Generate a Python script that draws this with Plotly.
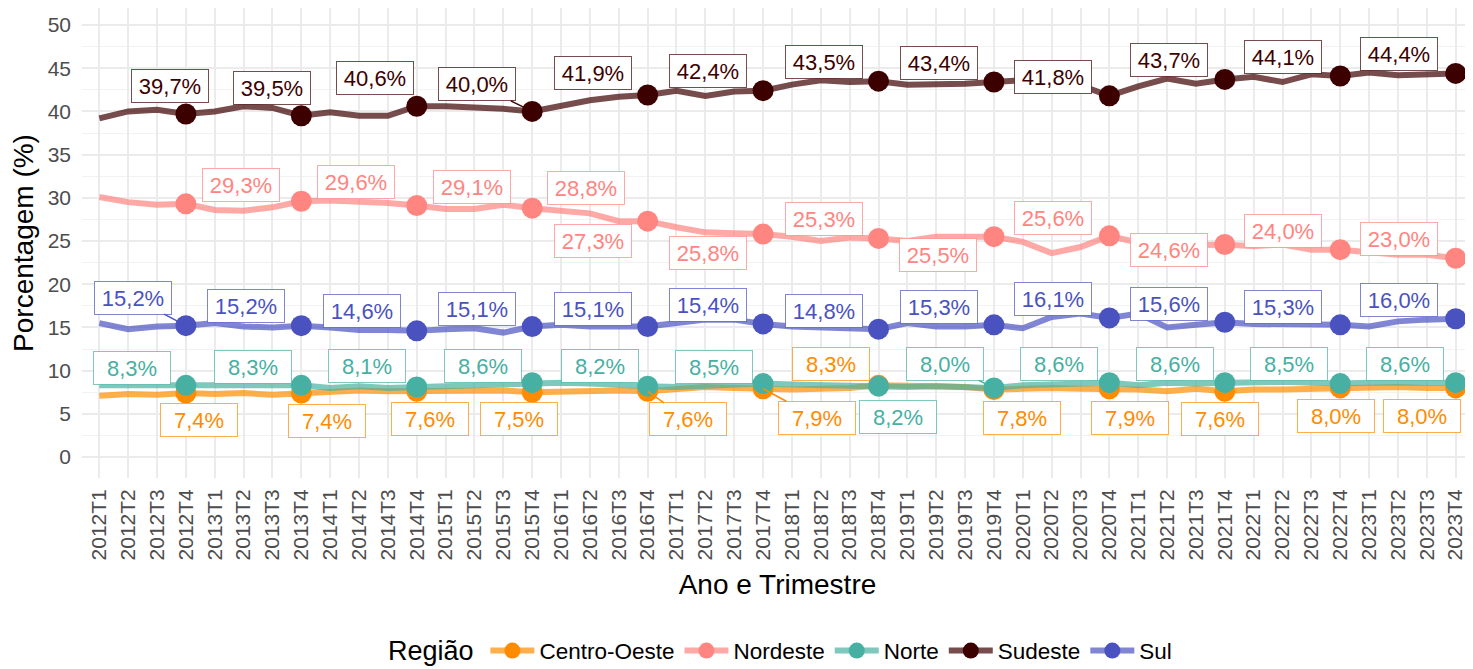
import plotly.graph_objects as go

# categorias (trimestres)
anos = list(range(2012, 2024))
trimestres = [f'{a}T{t}' for a in anos for t in range(1, 5)]

centro_oeste = [7.1, 7.3, 7.2, 7.4, 7.3, 7.4, 7.2, 7.4, 7.5, 7.7, 7.6, 7.6,
                7.6, 7.6, 7.7, 7.5, 7.6, 7.6, 7.7, 7.6, 7.9, 8.1, 8.0, 7.9,
                7.8, 7.9, 8.0, 8.3, 8.3, 8.2, 8.1, 7.8, 7.9, 8.0, 7.9, 7.9,
                7.8, 7.6, 7.9, 7.6, 7.8, 7.8, 7.9, 8.0, 8.0, 8.1, 8.0, 8.0]
nordeste = [30.1, 29.5, 29.2, 29.3, 28.6, 28.5, 28.9, 29.6, 29.7, 29.6, 29.4, 29.1,
            28.7, 28.7, 29.2, 28.8, 28.5, 28.2, 27.3, 27.3, 26.6, 26.0, 25.9, 25.8,
            25.5, 25.0, 25.4, 25.3, 25.0, 25.5, 25.5, 25.5, 24.9, 23.6, 24.3, 25.6,
            24.8, 24.6, 24.5, 24.6, 24.4, 24.6, 24.0, 24.0, 23.7, 23.4, 23.4, 23.0]
norte = [8.3, 8.3, 8.3, 8.3, 8.4, 8.4, 8.3, 8.3, 8.0, 8.2, 8.0, 8.1,
         8.3, 8.4, 8.5, 8.6, 8.6, 8.5, 8.3, 8.2, 8.1, 8.2, 8.4, 8.5,
         8.4, 8.3, 8.2, 8.2, 8.1, 8.2, 8.1, 8.0, 8.3, 8.4, 8.5, 8.6,
         8.3, 8.6, 8.5, 8.6, 8.7, 8.7, 8.6, 8.5, 8.6, 8.6, 8.6, 8.6]
sudeste = [39.2, 40.0, 40.2, 39.7, 40.0, 40.6, 40.4, 39.5, 39.9, 39.5, 39.5, 40.6,
           40.6, 40.5, 40.3, 40.0, 40.7, 41.3, 41.7, 41.9, 42.4, 41.8, 42.3, 42.4,
           43.1, 43.6, 43.4, 43.5, 43.1, 43.1, 43.2, 43.4, 43.6, 43.5, 43.0, 41.8,
           42.9, 43.8, 43.2, 43.7, 44.0, 43.4, 44.3, 44.1, 44.5, 44.2, 44.3, 44.4]
sul = [15.5, 14.8, 15.1, 15.2, 15.5, 15.1, 15.0, 15.2, 15.0, 14.7, 14.7, 14.6,
       14.8, 14.9, 14.4, 15.1, 15.3, 15.1, 15.1, 15.1, 15.5, 15.9, 15.9, 15.4,
       15.1, 15.0, 14.9, 14.8, 15.5, 15.1, 15.1, 15.3, 14.9, 16.2, 16.6, 16.1,
       16.6, 15.0, 15.3, 15.6, 15.4, 15.4, 15.3, 15.3, 15.1, 15.7, 15.9, 16.0]

regioes = ['Centro-Oeste', 'Nordeste', 'Norte', 'Sudeste', 'Sul']
valores = [centro_oeste, nordeste, norte, sudeste, sul]
cores = ['#FF8C00', '#FF8581', '#47B0A2', '#3D0000', '#4A52C0']
cores_alpha = ['rgba(255,140,0,0.7)', 'rgba(255,133,129,0.7)', 'rgba(71,176,162,0.7)',
               'rgba(61,0,0,0.7)', 'rgba(74,82,192,0.7)']

# deslocamento dos rotulos em pixels (dx, dy para baixo) - tipo ggrepel
offsets = {
    'Centro-Oeste': [(13, 27), (26, 28), (13, 28), (-13, 27), (40, 28), (54, 29),
                     (-48, -21), (28, 28), (21, 29), (-5, 28), (-4, 28), (-34, 28)],
    'Nordeste': [(55, -19), (55, -19), (55, -19), (54, -20), (-55, 20), (-55, 19),
                 (-55, -19), (-56, 18), (-56, -18), (-56, 6), (-57, -19), (-57, -19)],
    'Norte': [(-54, -17), (-48, -18), (-50, -21), (-49, -17), (-48, -20), (-49, -17),
              (19, 31), (-49, -24), (-50, -19), (-50, -19), (-51, -20), (-51, -19)],
    'Sudeste': [(-16, -28), (-29, -28), (-42, -28), (-55, -27), (-55, -22), (-55, -20),
                (-55, -19), (-55, -19), (-56, -19), (-56, -19), (-57, -19), (-57, -19)],
    'Sul': [(-53, -28), (-55, -20), (-55, -20), (-55, -18), (-55, -18), (-55, -19),
            (-55, -18), (-55, -18), (-56, -19), (-56, -18), (-57, -18), (-57, -19)],
}
# rotulos com segmento visivel
segmentos = {('Centro-Oeste', 4), ('Centro-Oeste', 5), ('Norte', 7), ('Sudeste', 3), ('Sul', 0)}

FONT = 'Liberation Sans, Arial, sans-serif'

fig = go.Figure()

# linhas
for reg, vals, cor in zip(regioes, valores, cores_alpha):
    fig.add_trace(go.Scatter(x=trimestres, y=vals, mode='lines', name=reg,
                             line=dict(color=cor, width=6), showlegend=False,
                             hoverinfo='skip'))

# pontos no T4
for reg, vals, cor in zip(regioes, valores, cores):
    xs = [q for q in trimestres if q.endswith('T4')]
    ys = [v for q, v in zip(trimestres, vals) if q.endswith('T4')]
    fig.add_trace(go.Scatter(x=xs, y=ys, mode='markers', name=reg, cliponaxis=False,
                             marker=dict(color=cor, size=21), showlegend=False))

# legenda
for reg, cor, cora in zip(regioes, cores, cores_alpha):
    fig.add_trace(go.Scatter(x=[None], y=[None], mode='lines+markers', name=reg,
                             line=dict(color=cora, width=6),
                             marker=dict(color=cor, size=16)))

annotations = []
for reg, vals, cor, cora in zip(regioes, valores, cores, cores_alpha):
    xs = [q for q in trimestres if q.endswith('T4')]
    ys = [v for q, v in zip(trimestres, vals) if q.endswith('T4')]
    for i, (q, v) in enumerate(zip(xs, ys)):
        dx, dy = offsets[reg][i]
        txt = f'{v:.1f}%'.replace('.', ',')
        ann = dict(x=q, y=v, text=txt, font=dict(family=FONT, size=22, color=cor),
                   bgcolor='white', bordercolor=cora, borderwidth=1, borderpad=4,
                   width=68, height=24)
        if (reg, i) in segmentos:
            ann.update(showarrow=True, ax=dx, ay=dy, arrowhead=0, arrowwidth=1.5,
                       arrowcolor=cor, standoff=0, startstandoff=0)
        else:
            ann.update(showarrow=False, xshift=dx, yshift=-dy)
        annotations.append(ann)

# titulo da legenda como texto separado (alinhado com os itens)
annotations.append(dict(text='Região', xref='paper', yref='paper', x=0.2185, y=-0.368,
                        xanchor='left', yanchor='middle', showarrow=False,
                        font=dict(family=FONT, size=27, color='black')))

# a pagina tem margem de 8px no body, entao a figura fica 8px menor
fig.update_layout(
    width=1465, height=661,
    margin=dict(l=74, r=0, t=0, b=191, autoexpand=False),
    plot_bgcolor='white', paper_bgcolor='white',
    font=dict(family=FONT, color='black'),
    annotations=annotations,
    xaxis=dict(
        type='category', categoryorder='array', categoryarray=trimestres,
        range=[-0.6, 47.6], tickangle=-90,
        tickfont=dict(size=21, color='#4d4d4d'), ticklabelstandoff=6,
        showgrid=True, gridcolor='#ebebeb', gridwidth=1.5, zeroline=False,
        ticks='', ticklen=0,
        title=dict(text='Ano e Trimestre', font=dict(size=28, color='black'), standoff=14),
    ),
    yaxis=dict(
        range=[-2.43, 51.97], tickmode='linear', tick0=0, dtick=5,
        tickfont=dict(size=21, color='#4d4d4d'), ticklabelstandoff=10,
        showgrid=True, gridcolor='#ebebeb', gridwidth=1.5, zeroline=False,
        minor=dict(tick0=2.5, dtick=5, showgrid=True, gridcolor='#f2f2f2', gridwidth=1),
        title=dict(text='Porcentagem (%)', font=dict(size=28, color='black'), standoff=6),
    ),
    legend=dict(
        orientation='h', x=0.29, xanchor='left', y=-0.368, yanchor='middle',
        itemwidth=44, valign='middle',
        font=dict(size=22.5, color='black'),
    ),
)

fig.write_html('out.html')
